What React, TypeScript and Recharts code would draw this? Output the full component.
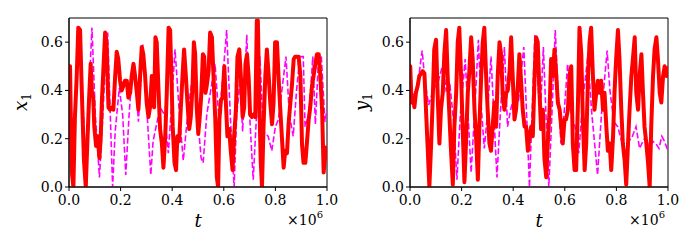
import React from 'react';
import { LineChart, Line, XAxis, YAxis, ReferenceArea } from 'recharts';

const tTicks = [0, 0.2, 0.4, 0.6, 0.8, 1.0];
const vTicks = [0, 0.2, 0.4, 0.6];

// x_1 panel, solid red series: [t (×10^6), value]
const x1Solid: [number, number][] = [
  [0, 0.5], [0.004, 0.5], [0.008, 0.21], [0.012, 0.05], [0.017, 0.0], [0.023, 0.29], [0.03, 0.46], [0.036, 0.66],
  [0.043, 0.65], [0.049, 0.42], [0.053, 0.28], [0.058, 0.11], [0.065, 0.0], [0.071, 0.18], [0.078, 0.37], [0.084, 0.51],
  [0.089, 0.39], [0.094, 0.37], [0.098, 0.25], [0.105, 0.17], [0.111, 0.21], [0.118, 0.12], [0.123, 0.21], [0.128, 0.37],
  [0.133, 0.48], [0.14, 0.64], [0.146, 0.58], [0.153, 0.33], [0.159, 0.32], [0.166, 0.33], [0.172, 0.32], [0.179, 0.46],
  [0.185, 0.56], [0.191, 0.53], [0.198, 0.44], [0.204, 0.4], [0.211, 0.42], [0.217, 0.44], [0.224, 0.44], [0.23, 0.37],
  [0.237, 0.39], [0.243, 0.46], [0.25, 0.51], [0.256, 0.46], [0.263, 0.39], [0.269, 0.32], [0.276, 0.47], [0.282, 0.58],
  [0.288, 0.55], [0.295, 0.46], [0.301, 0.35], [0.308, 0.29], [0.314, 0.33], [0.321, 0.46], [0.33, 0.33], [0.335, 0.62],
  [0.34, 0.6], [0.347, 0.4], [0.353, 0.24], [0.36, 0.18], [0.366, 0.08], [0.373, 0.21], [0.379, 0.39], [0.386, 0.66],
  [0.392, 0.65], [0.397, 0.46], [0.402, 0.25], [0.409, 0.1], [0.415, 0.07], [0.42, 0.21], [0.427, 0.19], [0.433, 0.32],
  [0.441, 0.48], [0.446, 0.57], [0.453, 0.46], [0.459, 0.35], [0.466, 0.24], [0.472, 0.29], [0.479, 0.42], [0.484, 0.6],
  [0.489, 0.55], [0.495, 0.33], [0.501, 0.22], [0.506, 0.28], [0.512, 0.37], [0.519, 0.55], [0.524, 0.54], [0.529, 0.39],
  [0.534, 0.42], [0.541, 0.48], [0.547, 0.64], [0.554, 0.62], [0.56, 0.46], [0.567, 0.28], [0.573, 0.04], [0.578, 0.0],
  [0.583, 0.28], [0.589, 0.36], [0.595, 0.37], [0.602, 0.5], [0.608, 0.35], [0.614, 0.21], [0.621, 0.24], [0.627, 0.15],
  [0.634, 0.07], [0.64, 0.21], [0.647, 0.32], [0.653, 0.54], [0.66, 0.57], [0.666, 0.46], [0.673, 0.29], [0.679, 0.33],
  [0.684, 0.51], [0.69, 0.55], [0.696, 0.46], [0.702, 0.3], [0.709, 0.29], [0.715, 0.3], [0.722, 0.29], [0.728, 0.69],
  [0.732, 0.69], [0.737, 0.39], [0.743, 0.11], [0.748, 0.0], [0.754, 0.25], [0.761, 0.46], [0.767, 0.57], [0.774, 0.46],
  [0.78, 0.35], [0.787, 0.26], [0.793, 0.35], [0.799, 0.6], [0.806, 0.6], [0.812, 0.46], [0.819, 0.32], [0.825, 0.21],
  [0.832, 0.08], [0.838, 0.15], [0.845, 0.14], [0.851, 0.26], [0.858, 0.35], [0.864, 0.42], [0.871, 0.53], [0.877, 0.54],
  [0.884, 0.54], [0.89, 0.54], [0.897, 0.46], [0.903, 0.18], [0.909, 0.1], [0.916, 0.1], [0.922, 0.18], [0.929, 0.28],
  [0.935, 0.33], [0.942, 0.42], [0.948, 0.46], [0.955, 0.51], [0.961, 0.55], [0.968, 0.55], [0.974, 0.46], [0.981, 0.32],
  [0.987, 0.06], [0.994, 0.14], [1.0, 0.17],
];

// x_1 panel, dashed magenta series
const x1Dashed: [number, number][] = [
  [0, 0.5], [0.01, 0.3], [0.02, 0.15], [0.03, 0.45], [0.04, 0.66], [0.05, 0.45], [0.06, 0.2], [0.07, 0.15],
  [0.08, 0.45], [0.089, 0.66], [0.102, 0.3], [0.118, 0.04], [0.128, 0.23], [0.141, 0.51], [0.15, 0.64], [0.16, 0.3],
  [0.169, 0.0], [0.179, 0.23], [0.195, 0.41], [0.208, 0.3], [0.22, 0.05], [0.233, 0.3], [0.247, 0.51], [0.255, 0.5],
  [0.269, 0.27], [0.286, 0.59], [0.295, 0.44], [0.317, 0.05], [0.326, 0.19], [0.353, 0.33], [0.37, 0.3], [0.385, 0.14],
  [0.395, 0.3], [0.411, 0.57], [0.43, 0.27], [0.443, 0.11], [0.46, 0.3], [0.476, 0.44], [0.49, 0.4], [0.512, 0.12],
  [0.52, 0.1], [0.534, 0.3], [0.566, 0.51], [0.58, 0.3], [0.592, 0.4], [0.611, 0.65], [0.625, 0.3], [0.64, 0.0],
  [0.65, 0.3], [0.663, 0.44], [0.673, 0.23], [0.689, 0.63], [0.7, 0.3], [0.714, 0.03], [0.727, 0.3], [0.74, 0.54],
  [0.753, 0.23], [0.772, 0.21], [0.786, 0.15], [0.8, 0.25], [0.812, 0.28], [0.824, 0.39], [0.841, 0.54], [0.854, 0.3],
  [0.869, 0.21], [0.882, 0.4], [0.895, 0.54], [0.908, 0.54], [0.915, 0.25], [0.93, 0.3], [0.945, 0.54], [0.955, 0.26],
  [0.966, 0.51], [0.978, 0.54], [0.992, 0.27], [1.0, 0.32],
];

// y_1 panel, solid red series
const y1Solid: [number, number][] = [
  [0, 0.5], [0.001, 0.5], [0.006, 0.35], [0.012, 0.37], [0.017, 0.33], [0.023, 0.39], [0.03, 0.42], [0.036, 0.46],
  [0.043, 0.47], [0.049, 0.48], [0.056, 0.47], [0.062, 0.32], [0.069, 0.15], [0.075, 0.0], [0.082, 0.18], [0.088, 0.36],
  [0.094, 0.57], [0.101, 0.61], [0.107, 0.39], [0.114, 0.18], [0.12, 0.32], [0.127, 0.39], [0.133, 0.55], [0.14, 0.65],
  [0.146, 0.46], [0.153, 0.29], [0.159, 0.15], [0.166, 0.01], [0.172, 0.25], [0.179, 0.39], [0.185, 0.6], [0.191, 0.66],
  [0.198, 0.46], [0.204, 0.25], [0.211, 0.02], [0.217, 0.18], [0.224, 0.39], [0.23, 0.48], [0.237, 0.62], [0.243, 0.53],
  [0.25, 0.32], [0.256, 0.21], [0.263, 0.03], [0.269, 0.25], [0.276, 0.46], [0.282, 0.6], [0.288, 0.66], [0.295, 0.46],
  [0.301, 0.32], [0.308, 0.18], [0.314, 0.15], [0.321, 0.26], [0.327, 0.35], [0.334, 0.25], [0.34, 0.46], [0.347, 0.6],
  [0.353, 0.55], [0.36, 0.37], [0.366, 0.32], [0.373, 0.39], [0.379, 0.4], [0.386, 0.48], [0.392, 0.62], [0.398, 0.46],
  [0.405, 0.28], [0.411, 0.32], [0.418, 0.42], [0.424, 0.55], [0.431, 0.43], [0.437, 0.32], [0.444, 0.25], [0.45, 0.25],
  [0.457, 0.15], [0.463, 0.21], [0.47, 0.25], [0.476, 0.21], [0.483, 0.46], [0.489, 0.62], [0.495, 0.6], [0.502, 0.39],
  [0.508, 0.24], [0.515, 0.32], [0.521, 0.12], [0.528, 0.04], [0.534, 0.18], [0.541, 0.32], [0.547, 0.53], [0.554, 0.46],
  [0.56, 0.57], [0.567, 0.46], [0.573, 0.35], [0.58, 0.32], [0.586, 0.25], [0.592, 0.18], [0.599, 0.28], [0.605, 0.28],
  [0.612, 0.32], [0.618, 0.46], [0.625, 0.5], [0.631, 0.18], [0.638, 0.07], [0.644, 0.07], [0.651, 0.35], [0.657, 0.66],
  [0.664, 0.55], [0.67, 0.28], [0.677, 0.07], [0.683, 0.18], [0.69, 0.46], [0.696, 0.6], [0.702, 0.66], [0.709, 0.46],
  [0.715, 0.32], [0.722, 0.39], [0.728, 0.44], [0.735, 0.39], [0.741, 0.44], [0.748, 0.32], [0.754, 0.39], [0.761, 0.25],
  [0.767, 0.15], [0.774, 0.18], [0.78, 0.07], [0.787, 0.21], [0.793, 0.4], [0.799, 0.53], [0.806, 0.65], [0.812, 0.53],
  [0.819, 0.32], [0.825, 0.18], [0.832, 0.11], [0.838, 0.01], [0.845, 0.18], [0.851, 0.32], [0.858, 0.46], [0.864, 0.53],
  [0.871, 0.62], [0.877, 0.39], [0.884, 0.32], [0.89, 0.46], [0.897, 0.55], [0.903, 0.39], [0.909, 0.25], [0.916, 0.18],
  [0.922, 0.11], [0.929, 0.0], [0.935, 0.25], [0.942, 0.46], [0.948, 0.57], [0.955, 0.62], [0.961, 0.53], [0.968, 0.39],
  [0.974, 0.35], [0.981, 0.46], [0.987, 0.5], [0.994, 0.46], [1.0, 0.5],
];

// y_1 panel, dashed magenta series
const y1Dashed: [number, number][] = [
  [0, 0.42], [0.015, 0.38], [0.027, 0.4], [0.047, 0.565], [0.058, 0.44], [0.072, 0.34], [0.09, 0.4], [0.11, 0.44],
  [0.128, 0.51], [0.14, 0.4], [0.155, 0.42], [0.17, 0.26], [0.182, 0.03], [0.195, 0.3], [0.214, 0.53], [0.225, 0.3],
  [0.237, 0.06], [0.25, 0.3], [0.265, 0.61], [0.275, 0.35], [0.288, 0.16], [0.3, 0.3], [0.314, 0.54], [0.325, 0.3],
  [0.337, 0.04], [0.35, 0.3], [0.366, 0.58], [0.378, 0.25], [0.39, 0.32], [0.405, 0.38], [0.42, 0.35], [0.441, 0.58],
  [0.452, 0.3], [0.463, 0.0], [0.473, 0.3], [0.484, 0.63], [0.495, 0.44], [0.505, 0.3], [0.517, 0.58], [0.527, 0.3],
  [0.538, 0.0], [0.55, 0.3], [0.563, 0.65], [0.572, 0.44], [0.585, 0.18], [0.597, 0.3], [0.611, 0.51], [0.625, 0.3],
  [0.64, 0.25], [0.654, 0.14], [0.67, 0.36], [0.689, 0.54], [0.705, 0.3], [0.727, 0.05], [0.742, 0.3], [0.764, 0.565],
  [0.775, 0.4], [0.79, 0.27], [0.805, 0.25], [0.82, 0.19], [0.837, 0.14], [0.849, 0.19], [0.862, 0.21], [0.876, 0.25],
  [0.89, 0.16], [0.903, 0.19], [0.915, 0.21], [0.928, 0.15], [0.94, 0.19], [0.953, 0.18], [0.965, 0.16], [0.976, 0.21],
  [0.986, 0.19], [1.0, 0.15],
];

const FONT = 'DejaVu Serif';
const toRows = (pts: [number, number][]) => pts.map(([t, v]) => ({ t, v }));

function Panel(props: {
  solid: [number, number][];
  dashed: [number, number][];
  left: number;
  width: number;
  yAxisWidth: number;
  rightMargin: number;
}) {
  const { solid, dashed, left, width, yAxisWidth, rightMargin } = props;
  const tickStyle = { fill: '#000', fontFamily: FONT, fontSize: 14 };
  return (
    <div style={{ position: 'absolute', left, top: 0 }}>
      <LineChart width={width} height={250} margin={{ top: 18, right: rightMargin, bottom: 33, left: 0 }}>
        <XAxis
          dataKey="t"
          type="number"
          domain={[0, 1]}
          ticks={tTicks}
          interval={0}
          allowDataOverflow
          tickFormatter={(v: number) => v.toFixed(1)}
          height={30}
          tickSize={4}
          tickMargin={4}
          stroke="#000"
          tick={tickStyle}
        />
        <YAxis
          dataKey="v"
          type="number"
          domain={[0, 0.7]}
          ticks={vTicks}
          interval={0}
          allowDataOverflow
          tickFormatter={(v: number) => v.toFixed(1)}
          width={yAxisWidth}
          tickSize={4}
          tickMargin={2}
          stroke="#000"
          tick={tickStyle}
        />
        <Line
          data={toRows(dashed)}
          dataKey="v"
          type="linear"
          stroke="#ff00ff"
          strokeWidth={1.6}
          strokeDasharray="6 2.5"
          dot={false}
          activeDot={false}
          isAnimationActive={false}
        />
        <Line
          data={toRows(solid)}
          dataKey="v"
          type="linear"
          stroke="#ff0000"
          strokeWidth={4}
          strokeLinejoin="round"
          dot={false}
          activeDot={false}
          isAnimationActive={false}
        />
        <ReferenceArea x1={0} x2={1} y1={0} y2={0.7} fill="none" fillOpacity={0} stroke="#000" strokeWidth={1} />
      </LineChart>
    </div>
  );
}

export default function App() {
  return (
    <div style={{ position: 'absolute', left: 0, top: 0, width: 700, height: 250, background: '#fff' }}>
      <Panel solid={x1Solid} dashed={x1Dashed} left={0} width={350} yAxisWidth={69} rightMargin={23} />
      <Panel solid={y1Solid} dashed={y1Dashed} left={350} width={350} yAxisWidth={60} rightMargin={32} />
      <svg width={700} height={250} style={{ position: 'absolute', left: 0, top: 0, pointerEvents: 'none' }}>
        <g fontFamily={FONT} fill="#000">
          <text x={198} y={227} fontSize={18} fontStyle="italic" textAnchor="middle">t</text>
          <text x={539} y={227} fontSize={18} fontStyle="italic" textAnchor="middle">t</text>
          <text x={323} y={225} fontSize={14} textAnchor="end">
            ×10<tspan fontSize={10} dy={-7}>6</tspan>
          </text>
          <text x={665} y={225} fontSize={14} textAnchor="end">
            ×10<tspan fontSize={10} dy={-7}>6</tspan>
          </text>
          <text transform="translate(27,102) rotate(-90)" textAnchor="middle" fontSize={18}>
            <tspan fontStyle="italic">x</tspan>
            <tspan fontSize={12} dy={4}>1</tspan>
          </text>
          <text transform="translate(368,102) rotate(-90)" textAnchor="middle" fontSize={18}>
            <tspan fontStyle="italic">y</tspan>
            <tspan fontSize={12} dy={4}>1</tspan>
          </text>
        </g>
      </svg>
    </div>
  );
}
